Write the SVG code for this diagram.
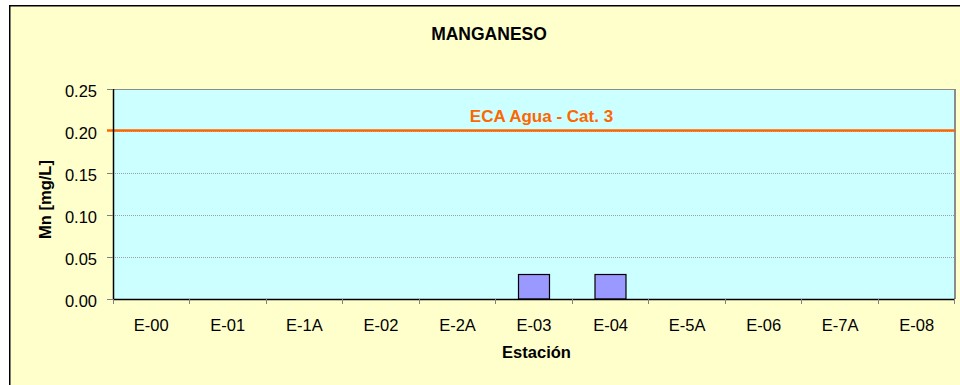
<svg xmlns="http://www.w3.org/2000/svg" width="960" height="385" viewBox="0 0 960 385">
<style>
.t{font-family:"Liberation Sans",Arial,sans-serif;fill:#000}
.tick{font-size:16.5px}
.b{font-weight:bold}
.grid{stroke:#a0a0a0;stroke-width:1;stroke-dasharray:1,1}
.tk{stroke:#808080;stroke-width:1}
.bar{fill:#9999FF;stroke:#000;stroke-width:1.2}
</style>
<rect x="0" y="0" width="960" height="385" fill="#fff"/>
<rect id="chart-bg" x="9.75" y="5.75" width="970" height="400" fill="#FFFFCC" stroke="#000" stroke-width="1.5"/>
<text id="title" class="t b" x="489" y="40" font-size="17.5" text-anchor="middle">MANGANESO</text>
<g id="plot">
<rect x="113" y="89" width="842" height="210" fill="#CCFFFF"/>
<line class="grid" x1="113" y1="131.5" x2="954" y2="131.5"/>
<line class="grid" x1="113" y1="173.5" x2="954" y2="173.5"/>
<line class="grid" x1="113" y1="215.5" x2="954" y2="215.5"/>
<line class="grid" x1="113" y1="257.5" x2="954" y2="257.5"/>
<line x1="113" y1="89.5" x2="955" y2="89.5" stroke="#8c8c8c" stroke-width="1.2"/>
<line x1="955" y1="89" x2="955" y2="299" stroke="#8c8c8c" stroke-width="2"/>
</g>
<g id="bars">
<rect class="bar" x="518.5" y="274.5" width="31" height="24.5"/>
<rect class="bar" x="595" y="274.5" width="31" height="24.5"/>
</g>
<g id="eca-line">
<line x1="107" y1="130.5" x2="955" y2="130.5" stroke="#FF6600" stroke-width="2.5"/>
<text class="t b" x="541.5" y="122" font-size="17" text-anchor="middle" style="fill:#FF6600">ECA Agua - Cat. 3</text>
</g>
<g id="axes">
<line x1="113.5" y1="89" x2="113.5" y2="299.5" stroke="#000" stroke-width="1.5"/>
<line x1="113" y1="299.5" x2="955" y2="299.5" stroke="#000" stroke-width="1.5"/>
<g class="tk">
<line x1="107" y1="89.5" x2="113" y2="89.5"/>
<line x1="107" y1="173.5" x2="113" y2="173.5"/>
<line x1="107" y1="215.5" x2="113" y2="215.5"/>
<line x1="107" y1="257.5" x2="113" y2="257.5"/>
<line x1="107" y1="299.5" x2="113" y2="299.5"/>
<line x1="113.5" y1="299" x2="113.5" y2="304"/>
<line x1="189.5" y1="299" x2="189.5" y2="304"/>
<line x1="266.5" y1="299" x2="266.5" y2="304"/>
<line x1="342.5" y1="299" x2="342.5" y2="304"/>
<line x1="419.5" y1="299" x2="419.5" y2="304"/>
<line x1="495.5" y1="299" x2="495.5" y2="304"/>
<line x1="572.5" y1="299" x2="572.5" y2="304"/>
<line x1="648.5" y1="299" x2="648.5" y2="304"/>
<line x1="725.5" y1="299" x2="725.5" y2="304"/>
<line x1="801.5" y1="299" x2="801.5" y2="304"/>
<line x1="878.5" y1="299" x2="878.5" y2="304"/>
<line x1="954.5" y1="299" x2="954.5" y2="304"/>
</g>
</g>
<g id="y-labels" class="t tick" text-anchor="end">
<text x="97" y="97">0.25</text>
<text x="97" y="139">0.20</text>
<text x="97" y="181">0.15</text>
<text x="97" y="223">0.10</text>
<text x="97" y="265">0.05</text>
<text x="97" y="307">0.00</text>
</g>
<g id="x-labels" class="t tick" text-anchor="middle">
<text x="151.3" y="331">E-00</text>
<text x="227.8" y="331">E-01</text>
<text x="304.4" y="331">E-1A</text>
<text x="380.9" y="331">E-02</text>
<text x="457.5" y="331">E-2A</text>
<text x="534" y="331">E-03</text>
<text x="610.6" y="331">E-04</text>
<text x="687.1" y="331">E-5A</text>
<text x="763.7" y="331">E-06</text>
<text x="840.2" y="331">E-7A</text>
<text x="916.8" y="331">E-08</text>
</g>
<text id="x-title" class="t b" x="536.5" y="358" font-size="16.5" text-anchor="middle">Estación</text>
<text id="y-title" class="t b" font-size="16.5" text-anchor="middle" transform="translate(51,199.5) rotate(-90)">Mn [mg/L]</text>
</svg>
